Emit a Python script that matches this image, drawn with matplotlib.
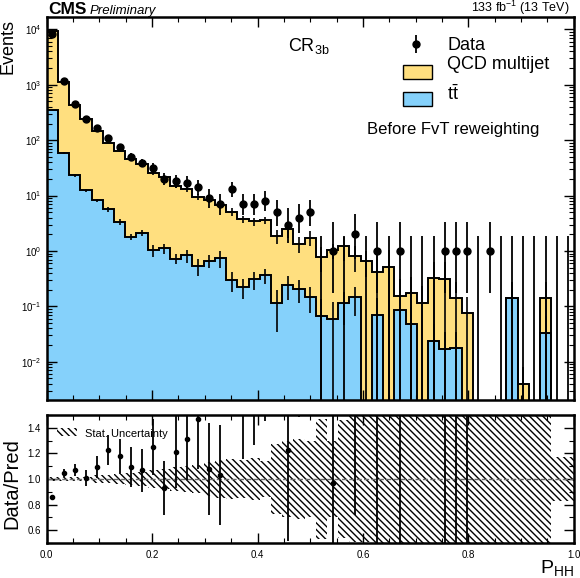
import math
import numpy as np
import matplotlib
matplotlib.use('Agg')
import matplotlib.pyplot as plt
from matplotlib.patches import Rectangle
from matplotlib.ticker import MultipleLocator, LogLocator, NullFormatter

plt.rcParams['font.family'] = ['Liberation Sans', 'DejaVu Sans']
plt.rcParams['mathtext.fontset'] = 'custom'
plt.rcParams['mathtext.rm'] = 'Liberation Sans'
plt.rcParams['mathtext.it'] = 'Liberation Sans:italic'
plt.rcParams['mathtext.bf'] = 'Liberation Sans:bold'
plt.rcParams['hatch.linewidth'] = 1.0

# 47 bins in P_HH between 0 and 1
edges = np.linspace(0.0, 1.0, 48)

qcd = np.array([9129, 1050, 405, 225.5, 141.3, 84.9, 61.2, 43.8, 34.4, 24.6,
                20.4, 14.1, 12.1, 9.0, 7.7, 6.05, 4.8, 3.53, 3.14, 3.19,
                1.74, 2.21, 1.14, 1.59, 0.72, 0.97, 1.13, 0.67, 0.66, 0.35,
                0.51, 0.07, 0.123, 0.117, 0.296, 0.293, 0.1225, 0.075, 0, 0,
                0, 0, 0.004, 0, 0.1065, 0.0012, 0.001])

ttbar = np.array([351, 59.5, 23.2, 12.5, 8.2, 5.65, 3.35, 1.82, 2.15, 1.02,
                  1.12, 0.72, 0.83, 0.54, 0.67, 0.75, 0.30, 0.225, 0.31, 0.365,
                  0.114, 0.24, 0.21, 0.15, 0.067, 0.06, 0.114, 0.146, 0, 0.071,
                  0, 0.086, 0.049, 0, 0.0237, 0.017, 0.0175, 0, 0, 0,
                  0, 0.14, 0, 0, 0.0335, 0, 0])

data = np.array([8150, 1160, 458, 240, 164, 111, 76, 50, 39, 32,
                 20, 18, 17, 14, 9, 7, 13, 7, 7, 8,
                 5, 3, 4, 5, 0, 1, 0, 2, 0, 1,
                 0, 1, 0, 0, 0, 1, 1, 1, 0, 1,
                 0, 0, 0, 0, 0, 0, 0])

# relative stat. uncertainty of the prediction (ratio band)
pred_unc = np.array([0.012, 0.015, 0.015, 0.018, 0.028, 0.035, 0.04, 0.05, 0.055, 0.07,
                     0.075, 0.09, 0.105, 0.11, 0.135, 0.145, 0.16, 0.15, 0.165, 0.14,
                     0.27, 0.3, 0.31, 0.3, 0.47, 0.3, 0.46, 0.49, 0.49, 1.0,
                     1.0, 1.0, 1.0, 1.0, 1.0, 1.0, 1.0, 1.0, 1.0, 1.0,
                     1.0, 1.0, 1.0, 1.0, 1.0, 0.17, 0.17])

# relative stat. uncertainty of ttbar
tt_unc = np.array([0.02, 0.04, 0.05, 0.06, 0.08, 0.1, 0.12, 0.12, 0.12, 0.25,
                   0.2, 0.2, 0.28, 0.35, 0.25, 0.35, 0.4, 0.4, 0.35, 0.3,
                   0.7, 0.45, 0.45, 0.5, 1.0, 1.0, 0.6, 0.55, 0, 1.0,
                   0, 1.0, 1.0, 0, 1.0, 1.0, 1.0, 0, 0, 0,
                   0, 0.4, 0, 0, 1.0, 0, 0])

qcd_color = '#FFDF7F'
tt_color = '#85D1FB'
hatch = '\\' * 5


def poisson_cdf(k, mu):
  if k < 0:
    return 0.0
  ks = np.arange(k + 1)
  lg = np.concatenate([[0.0], np.cumsum(np.log(np.arange(1, k + 1)))])
  return np.exp(-mu + ks * np.log(mu) - lg).sum()


def bisect(f, lo, hi):
  flo = f(lo)
  for _ in range(70):
    mid = 0.5 * (lo + hi)
    fm = f(mid)
    if (fm > 0) == (flo > 0):
      lo, flo = mid, fm
    else:
      hi = mid
  return 0.5 * (lo + hi)


def garwood(n):
  a = (1 - 0.682689) / 2
  up = bisect(lambda mu: poisson_cdf(n, mu) - a, max(n, 1e-9), n + 10 * math.sqrt(n) + 10)
  if n == 0:
    return 0.0, up
  lo = bisect(lambda mu: 1 - poisson_cdf(n - 1, mu) - a, 1e-9, n)
  return lo, up


centers = 0.5 * (edges[1:] + edges[:-1])
total = qcd + ttbar
tiny = 1e-6

fig = plt.figure(figsize=(5.8, 5.78), dpi=100)
ax = fig.add_axes([46.7 / 580, 1 - 400 / 578, 527 / 580, 383 / 578])
rax = fig.add_axes([46.7 / 580, 1 - 543 / 578, 527 / 580, 128 / 578])

# stacked histogram
ax.stairs(np.where(total > 0, total, tiny), edges, fill=True, color=qcd_color, baseline=tiny)
ax.stairs(np.where(ttbar > 0, ttbar, tiny), edges, fill=True, color=tt_color, baseline=tiny)
ax.stairs(np.where(ttbar > 0, ttbar, tiny), edges, color='k', lw=1.4, baseline=tiny)
ax.stairs(np.where(total > 0, total, tiny), edges, color='k', lw=1.4, baseline=tiny)

# MC stat error bars
m = ttbar > 0
lo_tt = np.maximum(ttbar * (1 - tt_unc), tiny)
ax.errorbar(centers[m], ttbar[m], yerr=[ttbar[m] - lo_tt[m], (ttbar * tt_unc)[m]],
            fmt='none', ecolor='k', elinewidth=1.2)
m = total > 0.002
lo_tot = np.maximum(total * (1 - pred_unc), tiny)
ax.errorbar(centers[m], total[m], yerr=[total[m] - lo_tot[m], (total * pred_unc)[m]],
            fmt='none', ecolor='k', elinewidth=1.2)

# data with Poisson intervals
intervals = np.array([garwood(int(n)) for n in data])
nz = data > 0
ax.errorbar(centers[nz], data[nz],
            yerr=[data[nz] - intervals[nz, 0], intervals[nz, 1] - data[nz]],
            fmt='o', color='k', ms=5, elinewidth=1.3)
ax.vlines(centers[~nz], tiny, intervals[~nz, 1], color='k', lw=1.3)

ax.set_yscale('log')
ax.set_xlim(0, 1)
ax.set_ylim(2.04e-3, 1.675e4)
ax.yaxis.set_major_locator(LogLocator(base=10, numticks=20))
ax.yaxis.set_minor_locator(LogLocator(base=10, subs=np.arange(2, 10), numticks=20))
ax.yaxis.set_minor_formatter(NullFormatter())

for a in (ax, rax):
  a.xaxis.set_major_locator(MultipleLocator(0.2))
  a.xaxis.set_minor_locator(MultipleLocator(0.05))
  a.tick_params(which='both', direction='in', top=True, right=True, labelsize=7)
  a.tick_params(which='major', length=7, width=1.0, pad=4)
  a.tick_params(which='minor', length=3.5, width=0.8)
  for s in a.spines.values():
    s.set_linewidth(1.8)
ax.tick_params(labelbottom=False)

# legend
ax.errorbar([0.700], [0.9295], yerr=[[0.0235], [0.0235]], fmt='o', color='k', ms=5,
            elinewidth=1.3, transform=ax.transAxes, clip_on=False)
ax.add_patch(Rectangle((0.6755, 0.839), 0.0555, 0.036, transform=ax.transAxes,
                       facecolor=qcd_color, edgecolor='k', lw=1.0))
ax.add_patch(Rectangle((0.6755, 0.768), 0.0555, 0.036, transform=ax.transAxes,
                       facecolor=tt_color, edgecolor='k', lw=1.0))
ax.text(0.760, 0.9138, 'Data', transform=ax.transAxes, fontsize=13, va='baseline')
ax.text(0.760, 0.8634, 'QCD multijet', transform=ax.transAxes, fontsize=13, va='baseline')
ax.text(0.760, 0.7833, r'$\mathrm{t\bar{t}}$', transform=ax.transAxes, fontsize=13, va='baseline')
ax.text(0.457, 0.912, r'CR$_{\mathrm{3b}}$', transform=ax.transAxes, fontsize=13, va='baseline')
ax.text(0.607, 0.6945, 'Before FvT reweighting', transform=ax.transAxes, fontsize=12,
        va='baseline')

# header
ax.text(0.002, 1.0078, 'CMS', transform=ax.transAxes, fontsize=12.5, fontweight='bold',
        va='baseline')
ax.text(0.081, 1.0078, 'Preliminary', transform=ax.transAxes, fontsize=9.5, style='italic',
        va='baseline')
ax.text(0.993, 1.013, r'133 fb$^{-1}$ (13 TeV)', transform=ax.transAxes, fontsize=9,
        ha='right', va='baseline')

fig.text(8 / 580, 1 - 19 / 578, 'Events', rotation=90, fontsize=13, ha='center', va='top')

# ratio panel
band_lo = np.append(1 - pred_unc, 1 - pred_unc[-1])
band_hi = np.append(1 + pred_unc, 1 + pred_unc[-1])
rax.fill_between(edges, band_lo, band_hi, step='post', facecolor='none',
                 edgecolor='k', hatch=hatch, linewidth=0)
rax.axhline(1.0, color='dimgray', ls='--', lw=1.0)

mr = total > 0
ratio = data[mr] / total[mr]
ratio_err = np.sqrt(data[mr]) / total[mr]
rax.errorbar(centers[mr], ratio, yerr=ratio_err, fmt='o', color='k', ms=3, elinewidth=1.3)

rax.set_xlim(0, 1)
rax.set_ylim(0.5, 1.5)
rax.yaxis.set_major_locator(MultipleLocator(0.2))
rax.yaxis.set_minor_locator(MultipleLocator(0.1))
rax.set_yticks([0.6, 0.8, 1.0, 1.2, 1.4])
rax.yaxis.set_major_formatter(matplotlib.ticker.FormatStrFormatter('%.1f'))
rax.tick_params(axis='x', pad=5)

rax.add_patch(Rectangle((0.019, 0.836), 0.038, 0.0625, transform=rax.transAxes,
                        facecolor='none', edgecolor='k', hatch=hatch, lw=0))
rax.text(0.0727, 0.828, 'Stat. Uncertainty', transform=rax.transAxes, fontsize=8,
         va='baseline')

fig.text(12 / 580, 1 - 484 / 578, 'Data/Pred', rotation=90, fontsize=14.5, ha='center',
         va='center')
rax.text(1.0, -0.236, r'P$_{\mathrm{HH}}$', transform=rax.transAxes, fontsize=14,
         ha='right', va='baseline')

fig.savefig('out.png', dpi=100)
